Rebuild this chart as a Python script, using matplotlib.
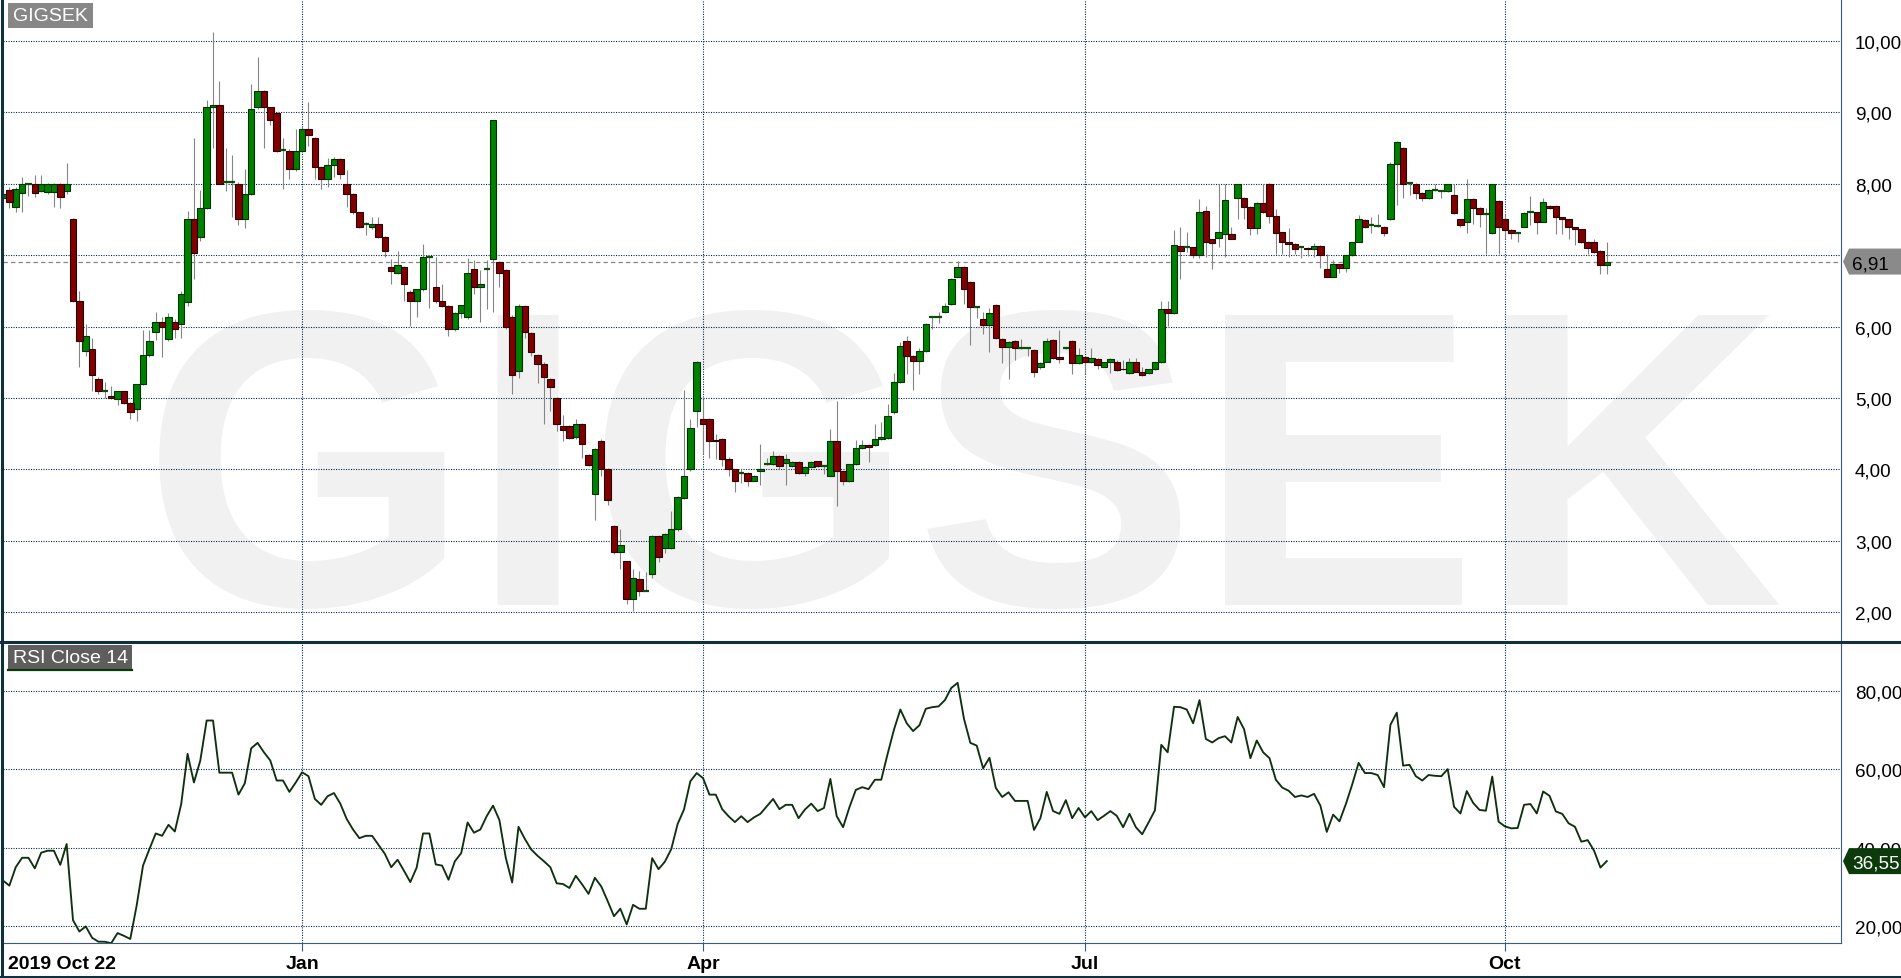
import numpy as np
import matplotlib
matplotlib.use("Agg")
import matplotlib.pyplot as plt
from matplotlib.patches import Polygon, Rectangle
from matplotlib.lines import Line2D
from matplotlib.transforms import IdentityTransform

plt.rcParams['font.family'] = ['Liberation Sans', 'DejaVu Sans']

opens = [
    7.80, 7.91, 7.67, 7.87, 8.00, 8.00, 7.90, 7.88, 7.88, 8.00,
    7.90, 7.50, 6.36, 5.66, 5.69, 5.27, 5.10, 5.03, 4.98, 5.09,
    4.93, 4.84, 5.20, 5.60, 5.92, 6.06, 5.83, 6.06, 6.04, 6.34,
    7.51, 7.25, 7.66, 9.07, 9.10, 8.02, 8.02, 8.00, 7.50, 7.86,
    9.07, 9.30, 9.07, 8.99, 8.47, 8.46, 8.20, 8.46, 8.77, 8.64,
    8.23, 8.07, 8.26, 8.35, 8.00, 7.86, 7.60, 7.44, 7.39, 7.44,
    7.26, 6.83, 6.75, 6.83, 6.49, 6.36, 6.52, 6.98, 6.55, 6.36,
    6.29, 5.96, 6.19, 6.13, 6.80, 6.55, 6.81, 6.95, 6.90, 6.79,
    6.14, 5.38, 6.29, 5.91, 5.60, 5.48, 5.27, 5.00, 4.60, 4.60,
    4.45, 4.63, 4.20, 3.65, 4.40, 4.00, 3.20, 2.84, 2.71, 2.18,
    2.47, 2.30, 2.54, 3.07, 2.90, 2.90, 3.16, 3.60, 4.00, 4.81,
    4.70, 4.70, 4.41, 4.42, 4.15, 4.00, 3.95, 3.95, 3.84, 3.97,
    4.07, 4.07, 4.19, 4.09, 4.04, 4.10, 3.95, 4.03, 4.11, 4.05,
    3.91, 4.40, 3.97, 3.83, 4.07, 4.30, 4.34, 4.34, 4.43, 4.44,
    4.80, 5.23, 5.80, 5.59, 5.52, 5.66, 6.13, 6.14, 6.21, 6.31,
    6.70, 6.84, 6.63, 6.27, 6.10, 6.02, 6.30, 5.83, 5.72, 5.80,
    5.70, 5.70, 5.67, 5.44, 5.51, 5.81, 5.57, 5.70, 5.80, 5.49,
    5.58, 5.50, 5.55, 5.44, 5.50, 5.50, 5.41, 5.35, 5.51, 5.37,
    5.35, 5.40, 5.50, 6.24, 6.19, 7.13, 7.12, 7.11, 7.00, 7.62,
    7.22, 7.24, 7.30, 7.30, 7.80, 7.80, 7.68, 7.38, 7.73, 8.00,
    7.55, 7.32, 7.18, 7.16, 7.12, 7.10, 7.09, 7.13, 6.80, 6.70,
    6.87, 6.82, 7.00, 7.19, 7.49, 7.42, 7.41, 7.40, 7.50, 8.28,
    8.50, 8.01, 8.00, 7.87, 7.80, 7.91, 7.90, 7.90, 7.84, 7.50,
    7.47, 7.79, 7.66, 7.57, 7.31, 7.76, 7.51, 7.35, 7.31, 7.40,
    7.60, 7.60, 7.47, 7.69, 7.69, 7.53, 7.50, 7.39, 7.36, 7.19,
    7.18, 7.06, 6.86,
]
highs = [
    7.90, 7.95, 7.96, 8.10, 8.00, 8.12, 8.12, 8.01, 8.01, 8.01,
    8.29, 7.52, 6.50, 6.04, 5.84, 5.30, 5.23, 5.16, 5.10, 5.10,
    4.94, 5.20, 5.95, 5.95, 6.20, 6.13, 6.19, 6.10, 6.50, 7.62,
    8.64, 7.91, 9.17, 10.12, 9.44, 8.50, 8.40, 8.02, 8.20, 9.40,
    9.77, 9.32, 9.08, 9.00, 8.64, 8.48, 8.76, 8.80, 9.15, 8.66,
    8.25, 8.36, 8.37, 8.36, 8.19, 7.87, 7.61, 7.47, 7.53, 7.54,
    7.27, 6.95, 7.06, 6.85, 6.51, 6.53, 7.16, 6.99, 6.98, 6.60,
    6.30, 6.20, 6.30, 6.96, 6.93, 6.79, 6.93, 8.90, 6.92, 6.80,
    6.16, 6.31, 6.30, 5.92, 5.62, 5.50, 5.28, 5.01, 4.76, 4.62,
    4.70, 4.65, 4.22, 4.30, 4.42, 4.02, 3.22, 3.17, 2.72, 2.60,
    2.58, 2.56, 3.08, 3.08, 3.11, 3.41, 3.62, 5.11, 4.70, 5.52,
    4.99, 4.72, 4.50, 4.44, 4.17, 4.01, 4.01, 3.96, 3.92, 4.36,
    4.16, 4.25, 4.20, 4.21, 4.11, 4.11, 4.04, 4.11, 4.12, 4.06,
    4.56, 4.95, 3.98, 4.08, 4.41, 4.41, 4.35, 4.64, 4.66, 4.91,
    5.35, 5.79, 5.87, 5.60, 5.70, 6.05, 6.14, 6.21, 6.33, 6.68,
    6.92, 6.85, 6.64, 6.28, 6.21, 6.26, 6.31, 5.84, 5.80, 5.81,
    5.83, 5.71, 5.68, 5.50, 5.84, 5.83, 5.95, 5.71, 5.81, 5.70,
    5.59, 5.70, 5.56, 5.51, 5.56, 5.53, 5.53, 5.56, 5.56, 5.44,
    5.41, 5.51, 6.36, 6.36, 7.35, 7.40, 7.33, 7.12, 7.79, 7.69,
    7.23, 8.00, 8.00, 7.39, 8.00, 7.81, 7.69, 7.74, 8.00, 8.01,
    7.64, 7.33, 7.38, 7.17, 7.13, 7.11, 7.17, 7.14, 7.02, 6.93,
    6.88, 7.00, 7.19, 7.56, 7.50, 7.53, 7.58, 7.41, 8.31, 8.60,
    8.51, 8.02, 8.01, 7.88, 7.92, 8.00, 7.91, 8.00, 8.00, 7.51,
    8.06, 7.80, 7.67, 7.66, 8.00, 7.77, 7.57, 7.36, 7.32, 7.60,
    7.83, 7.61, 7.80, 7.70, 7.70, 7.54, 7.51, 7.40, 7.37, 7.20,
    7.22, 7.07, 7.19,
]
lows = [
    7.74, 7.66, 7.60, 7.60, 7.83, 7.82, 7.88, 7.86, 7.68, 7.66,
    7.86, 6.34, 5.44, 5.59, 5.09, 5.06, 5.00, 4.99, 4.90, 4.92,
    4.71, 4.67, 5.18, 5.58, 5.81, 5.57, 5.80, 5.84, 5.84, 6.29,
    6.67, 7.20, 7.64, 8.50, 8.00, 7.90, 7.53, 7.42, 7.38, 7.84,
    9.05, 8.50, 8.83, 8.44, 7.93, 8.06, 8.18, 8.44, 8.53, 8.07,
    7.93, 7.96, 8.09, 8.06, 7.67, 7.58, 7.38, 7.28, 7.37, 7.24,
    6.98, 6.59, 6.73, 6.36, 6.01, 6.13, 6.50, 6.26, 6.33, 6.28,
    5.87, 5.94, 6.12, 6.11, 6.46, 6.07, 6.24, 6.20, 6.55, 5.96,
    5.06, 5.28, 5.84, 5.59, 5.21, 4.64, 4.81, 4.53, 4.40, 4.42,
    4.43, 4.16, 4.04, 3.29, 3.90, 3.50, 2.82, 2.60, 2.12, 2.01,
    2.22, 2.29, 2.48, 2.70, 2.83, 2.88, 3.14, 3.58, 3.98, 4.59,
    4.21, 4.16, 4.14, 4.04, 3.90, 3.68, 3.81, 3.76, 3.83, 3.78,
    4.06, 4.06, 4.01, 3.78, 4.03, 3.93, 3.90, 4.02, 4.03, 3.93,
    3.90, 3.48, 3.78, 3.82, 4.06, 4.29, 4.10, 4.33, 4.41, 4.43,
    4.78, 5.21, 5.34, 5.11, 5.34, 5.64, 5.96, 6.05, 6.19, 6.30,
    6.69, 6.31, 5.74, 6.12, 5.90, 5.64, 5.83, 5.49, 5.27, 5.53,
    5.69, 5.59, 5.30, 5.40, 5.50, 5.55, 5.49, 5.69, 5.34, 5.48,
    5.34, 5.49, 5.41, 5.43, 5.35, 5.38, 5.39, 5.34, 5.36, 5.31,
    5.34, 5.39, 5.49, 6.01, 6.18, 6.66, 7.05, 6.96, 6.96, 6.98,
    6.80, 7.12, 6.98, 7.22, 7.50, 7.50, 7.28, 7.30, 7.59, 7.45,
    7.02, 7.02, 6.98, 7.02, 6.96, 6.99, 6.98, 6.82, 6.69, 6.69,
    6.75, 6.76, 6.99, 7.18, 7.38, 7.31, 7.40, 7.27, 7.49, 7.70,
    7.80, 7.84, 7.78, 7.76, 7.78, 7.90, 7.80, 7.89, 7.58, 7.39,
    7.31, 7.44, 7.40, 7.02, 7.30, 7.02, 7.22, 7.22, 7.18, 7.39,
    7.42, 7.30, 7.46, 7.65, 7.30, 7.30, 7.22, 7.14, 7.17, 7.02,
    7.03, 6.73, 6.73,
]
closes = [
    7.86, 7.75, 7.92, 8.00, 8.00, 7.87, 7.99, 8.00, 8.00, 7.82,
    7.99, 6.36, 5.80, 5.87, 5.32, 5.10, 5.10, 5.00, 5.09, 4.93,
    4.80, 5.20, 5.60, 5.80, 6.06, 6.00, 6.14, 5.97, 6.46, 7.50,
    7.03, 7.66, 9.07, 9.10, 8.00, 8.02, 8.02, 7.50, 7.86, 9.05,
    9.30, 9.07, 8.90, 8.46, 8.47, 8.20, 8.46, 8.77, 8.68, 8.23,
    8.07, 8.26, 8.35, 8.13, 7.86, 7.60, 7.40, 7.44, 7.44, 7.26,
    7.06, 6.78, 6.86, 6.60, 6.36, 6.52, 6.98, 6.98, 6.36, 6.29,
    5.96, 6.19, 6.30, 6.75, 6.55, 6.60, 6.81, 8.90, 6.75, 6.00,
    5.32, 6.29, 5.93, 5.64, 5.47, 5.29, 5.15, 4.63, 4.55, 4.44,
    4.63, 4.36, 4.06, 4.28, 4.00, 3.57, 2.84, 2.94, 2.18, 2.48,
    2.30, 2.30, 3.07, 2.77, 3.10, 3.17, 3.61, 3.91, 4.58, 5.50,
    4.64, 4.39, 4.39, 4.15, 4.00, 3.84, 3.95, 3.84, 3.91, 4.00,
    4.07, 4.19, 4.04, 4.14, 4.10, 3.95, 4.03, 4.10, 4.04, 4.05,
    4.40, 3.97, 3.84, 4.07, 4.30, 4.34, 4.31, 4.43, 4.45, 4.74,
    5.23, 5.73, 5.59, 5.52, 5.66, 6.04, 6.13, 6.14, 6.29, 6.67,
    6.83, 6.52, 6.28, 6.27, 6.02, 6.19, 5.84, 5.72, 5.79, 5.70,
    5.70, 5.70, 5.36, 5.49, 5.80, 5.56, 5.55, 5.70, 5.49, 5.60,
    5.50, 5.56, 5.46, 5.50, 5.55, 5.39, 5.40, 5.50, 5.37, 5.32,
    5.40, 5.50, 6.24, 6.19, 7.14, 7.06, 7.12, 7.00, 7.60, 7.19,
    7.17, 7.33, 7.77, 7.23, 8.00, 7.68, 7.38, 7.73, 7.60, 7.55,
    7.31, 7.19, 7.15, 7.08, 7.12, 7.08, 7.13, 7.00, 6.70, 6.88,
    6.82, 7.00, 7.19, 7.51, 7.40, 7.42, 7.41, 7.31, 8.28, 8.59,
    8.00, 8.01, 7.87, 7.80, 7.91, 7.91, 7.90, 8.00, 7.59, 7.42,
    7.79, 7.66, 7.57, 7.57, 7.99, 7.40, 7.35, 7.31, 7.31, 7.59,
    7.60, 7.47, 7.74, 7.66, 7.53, 7.50, 7.39, 7.37, 7.19, 7.10,
    7.04, 6.86, 6.91,
]
rsi = [
    31.6, 30.3, 35.0, 37.4, 37.4, 34.7, 38.7, 39.2, 39.2, 35.6,
    40.9, 21.5, 18.6, 19.9, 17.0, 16.0, 16.0, 15.6, 18.2, 17.5,
    16.7, 25.2, 35.4, 39.6, 43.6, 43.0, 45.8, 44.1, 51.1, 63.9,
    56.6, 62.2, 72.4, 72.4, 59.1, 59.1, 59.1, 53.5, 56.4, 65.3,
    66.7, 64.3, 62.2, 57.1, 57.1, 54.2, 56.6, 59.2, 58.2, 52.4,
    50.9, 53.1, 53.9, 51.2, 47.3, 44.6, 42.4, 43.0, 43.0, 40.7,
    38.4, 35.0, 36.9, 34.1, 31.2, 34.9, 43.6, 43.6, 35.7, 35.4,
    31.8, 36.5, 38.6, 46.4, 43.8, 44.6, 48.0, 50.7, 47.0, 37.4,
    31.1, 45.3, 42.2, 39.5, 37.9, 36.5, 35.0, 30.9, 30.7, 29.7,
    32.8, 30.6, 28.2, 32.3, 30.1, 26.4, 22.5, 24.4, 20.4, 25.4,
    24.4, 24.4, 37.3, 34.5, 36.4, 39.6, 46.0, 49.7, 56.9, 59.0,
    57.7, 53.5, 53.5, 49.8, 48.0, 46.5, 48.0, 46.5, 47.7, 48.6,
    50.5, 52.4, 49.8, 50.9, 50.9, 47.5, 49.7, 51.2, 49.3, 50.1,
    57.5, 48.0, 45.2, 50.3, 54.7, 55.4, 54.9, 57.3, 57.3, 63.9,
    70.1, 75.2, 71.7, 69.7, 71.2, 75.4, 75.8, 76.0, 77.6, 80.7,
    82.0, 72.8, 66.7, 66.0, 60.2, 62.9, 55.2, 52.9, 54.1, 51.9,
    51.9, 51.9, 44.5, 47.5, 54.2, 49.3, 48.6, 52.1, 47.5, 50.1,
    47.7, 49.3, 47.0, 48.1, 49.3, 48.1, 45.2, 48.6, 45.2, 43.4,
    46.4, 49.5, 66.2, 64.3, 75.9, 75.8, 75.2, 71.7, 77.6, 67.7,
    66.8, 67.9, 68.4, 66.8, 73.3, 70.2, 62.8, 67.3, 64.3, 62.8,
    57.3, 55.3, 54.5, 52.9, 53.3, 52.9, 53.7, 50.7, 44.0, 48.4,
    46.7, 51.1, 56.1, 61.6, 59.0, 59.0, 58.5, 55.4, 71.3, 74.4,
    60.9, 61.1, 58.2, 57.1, 58.5, 58.3, 58.2, 60.0, 50.4, 48.7,
    54.4, 51.4, 49.6, 49.4, 58.1, 46.6, 45.4, 44.9, 45.0, 50.9,
    51.1, 48.7, 54.3, 53.2, 49.2, 48.6, 46.2, 45.3, 41.5, 41.9,
    39.2, 34.9, 36.55,
]

month_pos = [47, 110, 170, 236]
month_names = ["Jan", "Apr", "Jul", "Oct"]
first_label = "2019 Oct 22"
price_ticks = [2, 3, 4, 5, 6, 7, 8, 9, 10]
rsi_ticks = [20, 40, 60, 80]

W, H = 1901, 979
GRID = '#062c4a'
AXIS = '#3a5a80'
FRAME = '#10303f'


def px_rect(x0, y0, x1, y1):
    return [x0 / W, 1 - y1 / H, (x1 - x0) / W, (y1 - y0) / H]


def komma(v):
    return "{:.2f}".format(v).replace('.', ',')


fig = plt.figure(figsize=(W / 100, H / 100), dpi=100)
fig.patch.set_facecolor('white')

ax = fig.add_axes(px_rect(3, 0, 1841, 643))
ax2 = fig.add_axes(px_rect(3, 643, 1841, 944), sharex=ax)

idx = np.arange(len(closes))
o = np.array(opens)
h = np.array(highs)
l = np.array(lows)
c = np.array(closes)
up = c > o
dn = c < o
eq = c == o

# koersgrafiek
ax.vlines(idx, l, h, color='#858585', lw=0.8, zorder=2)
ax.bar(idx[up], c[up] - o[up], bottom=o[up], width=1.02, color='#008000',
       edgecolor='#003300', lw=0.8, zorder=3)
ax.bar(idx[dn], o[dn] - c[dn], bottom=c[dn], width=1.02, color='#800000',
       edgecolor='#2b0000', lw=0.8, zorder=3)
ax.hlines(c[eq], idx[eq] - 0.5, idx[eq] + 0.5, color='#0b4d0b', lw=1.6, zorder=3)
ax.axhline(c[-1], color='#858585', lw=0.9, ls=(0, (3.5, 2.5)), zorder=1)

ax.text(0.522, 0.059, "GIGSEK", transform=ax.transAxes, ha='center', va='baseline',
        fontsize=304, fontweight='bold', color='#f1f1f1', zorder=0.2)

ax.set_xlim(0, 288.8)
ax.set_ylim(1.581, 10.588)
ax.set_yticks(price_ticks)
# het label 7,00 valt weg achter het koerslabel rechts
ax.set_yticklabels([komma(v) if v != 7 else '' for v in price_ticks])

# RSI
ax2.plot(idx, rsi, color='#0e300e', lw=1.35, zorder=3)
ax2.set_ylim(15.67, 92.42)
ax2.set_yticks(rsi_ticks)
ax2.set_yticklabels([komma(v) for v in rsi_ticks])

for a in (ax, ax2):
    a.set_axisbelow(True)
    a.yaxis.tick_right()
    a.tick_params(axis='y', length=0, pad=10, labelsize=13.6, labelcolor='black')
    a.set_xticks(month_pos)
    a.grid(True, color=GRID, lw=0.8, ls=(0, (1, 1.25)))
    for s in ('top', 'left', 'bottom', 'right'):
        a.spines[s].set_visible(False)
    a.spines['right'].set_visible(True)
    a.spines['right'].set_color(AXIS)
    a.spines['right'].set_linewidth(0.8)

ax.tick_params(axis='x', bottom=False, labelbottom=False)
ax2.spines['bottom'].set_visible(True)
ax2.spines['bottom'].set_color(AXIS)
ax2.spines['bottom'].set_linewidth(0.8)
ax2.tick_params(axis='x', length=6, width=0.8, color=AXIS, labelbottom=False)

# maand labels
lab_y = 1 - 969.5 / H
fig.text(8 / W, lab_y, first_label, ha='left', va='baseline', fontsize=14, fontweight='bold')
for p, name in zip(month_pos, month_names):
    xd = ax2.transData.transform((p, 0))[0]
    fig.text(xd / W, lab_y, name, ha='center', va='baseline', fontsize=14, fontweight='bold')

# titels linksboven
fig.add_artist(Rectangle((8 / W, 1 - 29 / H), 85 / W, 25 / H, transform=fig.transFigure,
                         fc='#878787', ec='none', zorder=5))
fig.text(13 / W, 1 - 16.5 / H, "GIGSEK", color='white', fontsize=14, va='center', zorder=6)
fig.add_artist(Rectangle((8 / W, 1 - 672 / H), 124 / W, 26 / H, transform=fig.transFigure,
                         fc='#5e5e5e', ec='none', zorder=5))
fig.add_artist(Line2D([8 / W, 132 / W], [1 - 671 / H] * 2, transform=fig.transFigure,
                      color='#0a3a0a', lw=1.6, zorder=6))
fig.text(13 / W, 1 - 658.5 / H, "RSI Close 14", color='white', fontsize=14, va='center', zorder=6)


# laatste waarde labels rechts
def value_tag(axis, value, face, txtcolor):
    yd = axis.transData.transform((0, value))[1]
    hh = 13
    pts = [(1843, yd), (1849, yd + hh), (W + 5, yd + hh), (W + 5, yd - hh), (1849, yd - hh)]
    fig.add_artist(Polygon(pts, closed=True, transform=IdentityTransform(),
                           fc=face, ec='none', zorder=5))
    fig.text(1852 / W, yd / H, komma(value), color=txtcolor, fontsize=13.6,
             va='center_baseline', ha='left', zorder=6)


value_tag(ax, closes[-1], '#8a8a8a', 'black')
value_tag(ax2, rsi[-1], '#0b3a0b', 'white')

# kaders
fig.add_artist(Line2D([1.5 / W, 1.5 / W], [0, 1], transform=fig.transFigure, color=FRAME, lw=2.2))
fig.add_artist(Line2D([0, 1], [1 - 643 / H] * 2, transform=fig.transFigure, color=FRAME, lw=2.2))
fig.add_artist(Line2D([0, 1], [1 - 977.5 / H] * 2, transform=fig.transFigure, color=FRAME, lw=2.2))

fig.savefig("out.png", dpi=100)
